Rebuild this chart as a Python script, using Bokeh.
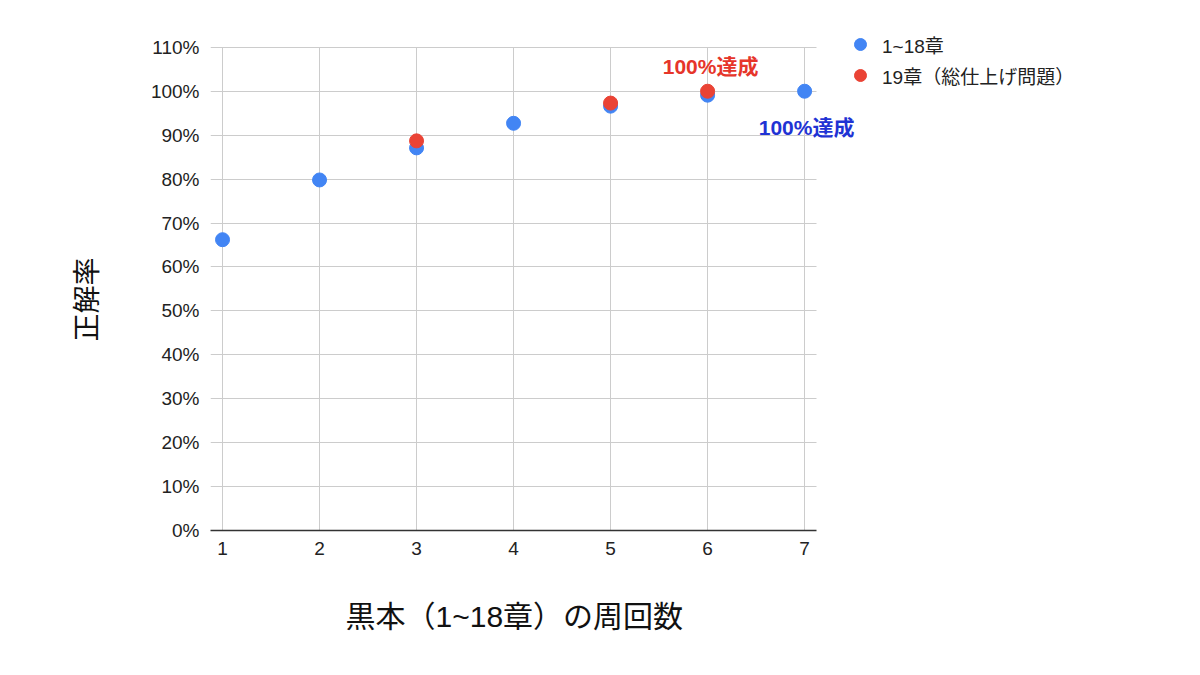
from bokeh.plotting import figure
from bokeh.models import (ColumnDataSource, NumeralTickFormatter, FixedTicker,
                          Range1d, Legend, LegendItem, Label, Title)
from bokeh.embed import file_html
from bokeh.resources import INLINE

# ---- data ----
laps_blue = [1, 2, 3, 4, 5, 6, 7]
rate_blue = [0.662, 0.798, 0.871, 0.927, 0.966, 0.991, 1.0]
laps_red = [3, 5, 6]
rate_red = [0.887, 0.973, 1.0]
series_names = ["1~18章", "19章（総仕上げ問題）"]
x_ticks = [1, 2, 3, 4, 5, 6, 7]
y_ticks = [0, 0.1, 0.2, 0.3, 0.4, 0.5, 0.6, 0.7, 0.8, 0.9, 1.0, 1.1]
x_title = "黒本（1~18章）の周回数"
y_title = "正解率"
note_text = "100%達成"

FONT = "Liberation Sans, Noto Sans CJK JP, sans-serif"
BLUE = "#4285f4"
RED = "#ea4335"

X_BOUNDS = (0.876, 7.124)
Y_BOUNDS = (0.0, 1.1)

p = figure(width=1184, height=672, output_backend="svg", toolbar_location=None,
           x_range=Range1d(0.876, 10.05), y_range=Range1d(0, 1.161),
           min_border_left=210, min_border_right=84,
           min_border_top=20, min_border_bottom=140)
p.outline_line_color = None
p.background_fill_color = "white"

# axes
p.xaxis.ticker = FixedTicker(ticks=x_ticks)
p.yaxis.ticker = FixedTicker(ticks=y_ticks)
p.yaxis.formatter = NumeralTickFormatter(format="0%")
p.xaxis.bounds = X_BOUNDS
p.yaxis.bounds = Y_BOUNDS
for ax in (p.xaxis, p.yaxis):
    ax.major_tick_line_color = None
    ax.minor_tick_line_color = None
    ax.major_label_text_font = FONT
    ax.major_label_text_font_size = "19px"
    ax.major_label_text_color = "#222222"
p.yaxis.axis_line_color = None
p.xaxis.axis_line_color = "#333333"
p.xaxis.axis_line_width = 1.5
p.xaxis.major_label_standoff = 5
p.yaxis.major_label_standoff = 5

# axis titles (placed over the chart area, not the whole frame)
p.add_layout(Title(text=x_title, align="left", offset=135, standoff=80,
                   text_font=FONT, text_font_size="30px", text_font_style="normal",
                   text_color="#111111"), "below")
p.add_layout(Title(text=y_title, align="left", offset=189, standoff=89,
                   text_font=FONT, text_font_size="28px", text_font_style="normal",
                   text_color="#111111"), "left")

# grid, limited to the chart area
p.xgrid.ticker = FixedTicker(ticks=x_ticks)
p.ygrid.ticker = FixedTicker(ticks=y_ticks)
p.xgrid.grid_line_color = "#cccccc"
p.ygrid.grid_line_color = "#cccccc"
p.xgrid.bounds = X_BOUNDS
p.ygrid.bounds = Y_BOUNDS
if hasattr(p.xgrid[0], "cross_bounds"):
    p.xgrid.cross_bounds = Y_BOUNDS
    p.ygrid.cross_bounds = X_BOUNDS

# points
src_b = ColumnDataSource(dict(x=laps_blue, y=rate_blue))
src_r = ColumnDataSource(dict(x=laps_red, y=rate_red))
rb = p.scatter("x", "y", source=src_b, size=14, color=BLUE, line_color=BLUE)
rr = p.scatter("x", "y", source=src_r, size=14, color=RED, line_color=RED)

# annotations
p.add_layout(Label(x=laps_red[-1], y=rate_red[-1], text=note_text, x_offset=3, y_offset=25,
                   text_align="center", text_baseline="middle",
                   text_font=FONT, text_font_size="21px", text_font_style="bold",
                   text_color="#e6352a"))
p.add_layout(Label(x=laps_blue[-1], y=rate_blue[-1], text=note_text, x_offset=2, y_offset=-36,
                   text_align="center", text_baseline="middle",
                   text_font=FONT, text_font_size="21px", text_font_style="bold",
                   text_color="#1f33d4"))

legend = Legend(items=[LegendItem(label=series_names[0], renderers=[rb]),
                       LegendItem(label=series_names[1], renderers=[rr])],
                location=(635, 440), orientation="vertical",
                glyph_width=30, glyph_height=30, label_height=30, spacing=1,
                label_standoff=7, padding=0, margin=0,
                border_line_color=None, background_fill_alpha=0,
                label_text_font=FONT, label_text_font_size="19px",
                label_text_color="#222222")
p.add_layout(legend, "center")

open("out.html", "w").write(file_html(p, INLINE))
